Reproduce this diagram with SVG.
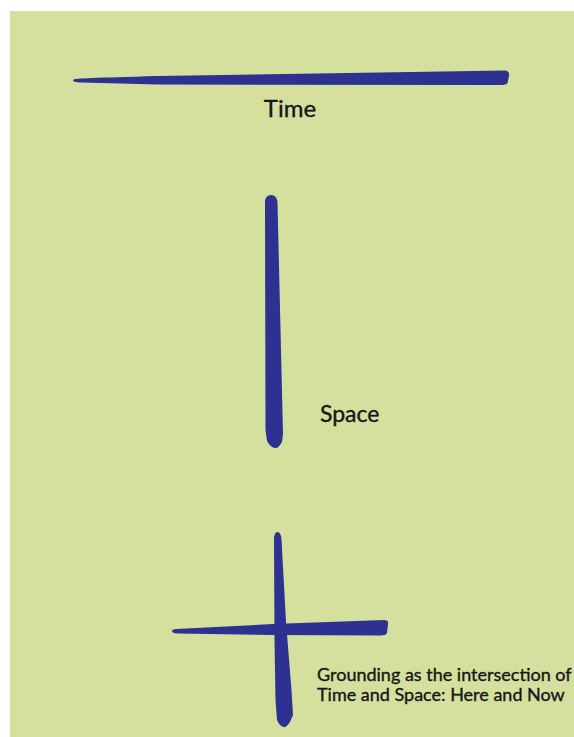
<svg xmlns="http://www.w3.org/2000/svg" width="574" height="737" viewBox="0 0 574 737">
  <style>
    .stroke { fill: #2c3192; }
    .label { font-family: Lato, "Open Sans", "Liberation Sans", sans-serif; fill: #161616; stroke: #161616; stroke-width: 0.35; }
  </style>
  <rect x="0" y="0" width="574" height="737" fill="#ffffff"/>
  <rect x="10" y="11" width="564" height="726" fill="#d5e09f"/>

  <g id="time">
    <path class="stroke" d="M73,80 C74,78 95,78 157,76 L505,70.5 Q510,71 509,76 L507.5,83 Q506,85 500,85 L157,84.5 L82,82.5 C75,82.5 73,81.5 73,80 Z"/>
    <text class="label" x="290" y="117" font-size="24" text-anchor="middle">Time</text>
  </g>

  <g id="space">
    <path class="stroke" d="M265,203 Q265,195 271,195 Q277,195 277.5,203 L283,434 L282,442 Q278,449 275,448 Q271,448 267,441 L265.5,430 Z"/>
    <text class="label" x="320" y="422" font-size="23">Space</text>
  </g>

  <g id="here-and-now">
    <path class="stroke" d="M274,540 Q274,532 277.5,532 Q281,532 281.5,540 L286,622 L291.5,690 L293,715 L290,722 Q286,728 284,727 Q280,727 277,720 L275.5,700 L274.5,640 Z"/>
    <path class="stroke" d="M172,631 Q172,629.5 176,629 L273,624 L384,620 Q389,620 388,624 L387,633 Q386,635.5 380,635.5 L273,635 L178,633.5 Q172,633 172,631 Z"/>
    <text class="label" font-size="18">
      <tspan x="317" y="681">Grounding as the intersection of</tspan>
      <tspan x="317" y="701">Time and Space: Here and Now</tspan>
    </text>
  </g>
</svg>
